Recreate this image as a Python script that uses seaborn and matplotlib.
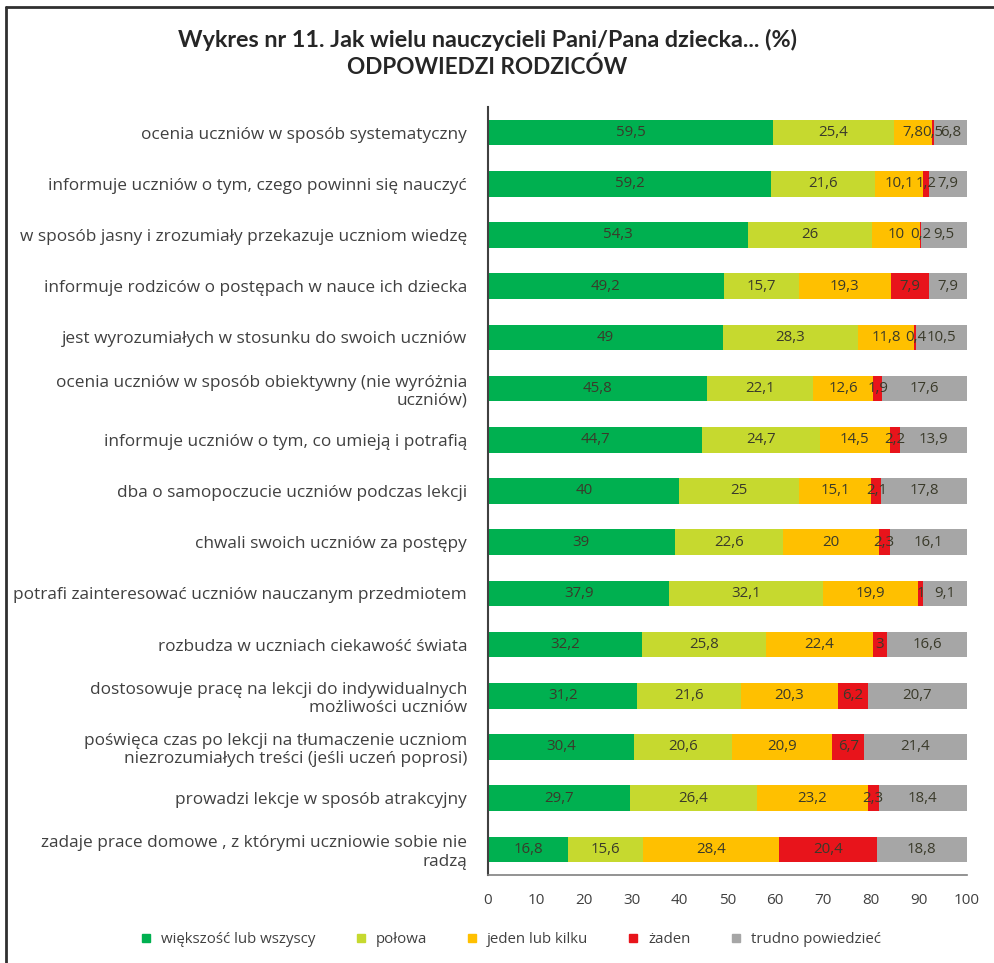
import matplotlib
matplotlib.use("Agg")
import matplotlib.pyplot as plt
from matplotlib.lines import Line2D
import numpy as np
import pandas as pd
import seaborn as sns

# Statements about teachers (rows, top to bottom)
categories = [
    "ocenia uczniów w sposób systematyczny",
    "informuje uczniów o tym, czego powinni się nauczyć",
    "w sposób jasny i zrozumiały przekazuje uczniom wiedzę",
    "informuje rodziców o postępach w nauce ich dziecka",
    "jest wyrozumiałych w stosunku do swoich uczniów",
    "ocenia uczniów w sposób obiektywny (nie wyróżnia\nuczniów)",
    "informuje uczniów o tym, co umieją i potrafią",
    "dba o samopoczucie uczniów podczas lekcji",
    "chwali swoich uczniów za postępy",
    "potrafi zainteresować uczniów nauczanym przedmiotem",
    "rozbudza w uczniach ciekawość świata",
    "dostosowuje pracę na lekcji do indywidualnych\nmożliwości uczniów",
    "poświęca czas po lekcji na tłumaczenie uczniom\nniezrozumiałych treści (jeśli uczeń poprosi)",
    "prowadzi lekcje w sposób atrakcyjny",
    "zadaje prace domowe , z którymi uczniowie sobie nie\nradzą",
]

# Answer shares (%)
wiekszosc = [59.5, 59.2, 54.3, 49.2, 49, 45.8, 44.7, 40, 39, 37.9, 32.2, 31.2, 30.4, 29.7, 16.8]
polowa = [25.4, 21.6, 26, 15.7, 28.3, 22.1, 24.7, 25, 22.6, 32.1, 25.8, 21.6, 20.6, 26.4, 15.6]
jeden = [7.8, 10.1, 10, 19.3, 11.8, 12.6, 14.5, 15.1, 20, 19.9, 22.4, 20.3, 20.9, 23.2, 28.4]
zaden = [0.5, 1.2, 0.2, 7.9, 0.4, 1.9, 2.2, 2.1, 2.3, 1, 3, 6.2, 6.7, 2.3, 20.4]
trudno = [6.8, 7.9, 9.5, 7.9, 10.5, 17.6, 13.9, 17.8, 16.1, 9.1, 16.6, 20.7, 21.4, 18.4, 18.8]

series_names = ["większość lub wszyscy", "połowa", "jeden lub kilku", "żaden", "trudno powiedzieć"]
series_values = [wiekszosc, polowa, jeden, zaden, trudno]
colors = ["#00B050", "#C6D92F", "#FFC000", "#E8141B", "#A6A6A6"]
ticks = [0, 10, 20, 30, 40, 50, 60, 70, 80, 90, 100]

title_lines = ["Wykres nr 11. Jak wielu nauczycieli Pani/Pana dziecka... (%)", "ODPOWIEDZI RODZICÓW"]

BODY = ["Open Sans", "DejaVu Sans"]
TITLE = ["Lato", "DejaVu Sans"]
sns.set_theme(style="white")
plt.rcParams["font.family"] = BODY

df = pd.DataFrame({name: vals for name, vals in zip(series_names, series_values)})
df["kategoria"] = categories
cum = df[series_names].cumsum(axis=1)

fig = plt.figure(figsize=(9.94, 9.63), dpi=100)
ax = fig.add_axes([0.491, 0.0914, 0.4815, 0.7975])

# Stacked bars: draw cumulative totals from the widest down
for name, col in reversed(list(zip(series_names, colors))):
    sns.barplot(data=cum.assign(kategoria=categories), x=name, y="kategoria",
                orient="h", color=col, width=0.5, saturation=1, ax=ax,
                order=categories, linewidth=0)


def fmt(v):
    if float(v).is_integer():
        return str(int(v))
    return f"{v:.1f}".replace(".", ",")


for i in range(len(categories)):
    left = 0.0
    for name in series_names:
        v = df.loc[i, name]
        ax.text(left + v / 2, i, fmt(v), ha="center", va="center",
                fontsize=10.8, color="#3a3a2a")
        left += v

ax.set_xlim(0, 100)
ax.set_ylim(len(categories) - 0.5, -0.5)
ax.set_xticks(ticks)
ax.set_xticklabels([str(t) for t in ticks], fontsize=11, color="#404040")
ax.tick_params(axis="x", length=0, pad=13)
ax.tick_params(axis="y", length=0, pad=15, labelsize=12.4, labelcolor="#404040")
ax.set_xlabel("")
ax.set_ylabel("")
for s in ["top", "right"]:
    ax.spines[s].set_visible(False)
ax.spines["left"].set_color("#404040")
ax.spines["left"].set_linewidth(1.5)
ax.spines["bottom"].set_color("#808080")
ax.spines["bottom"].set_linewidth(1.2)

fig.text(0.49, 0.958, title_lines[0], ha="center", va="center", family=TITLE,
         fontsize=16.8, fontweight="bold", color="#262626")
fig.text(0.49, 0.930, title_lines[1], ha="center", va="center", family=TITLE,
         fontsize=16.2, fontweight="bold", color="#262626")

handles = [Line2D([0], [0], marker="s", linestyle="", markersize=6,
                  markerfacecolor=c, markeredgecolor=c) for c in colors]
fig.legend(handles, series_names, loc="center", bbox_to_anchor=(0.509, 0.024),
           ncol=5, frameon=False, fontsize=10.8, handletextpad=0.0,
           columnspacing=2.0, labelcolor="#404040")

# Frame lines along top and left edge
fig.add_artist(Line2D([6 / 994, 1], [1 - 7 / 963, 1 - 7 / 963], color="#303030", lw=2,
                      transform=fig.transFigure))
fig.add_artist(Line2D([6 / 994, 6 / 994], [0, 1 - 7 / 963], color="#303030", lw=2,
                      transform=fig.transFigure))

fig.savefig("out.png", dpi=100)
